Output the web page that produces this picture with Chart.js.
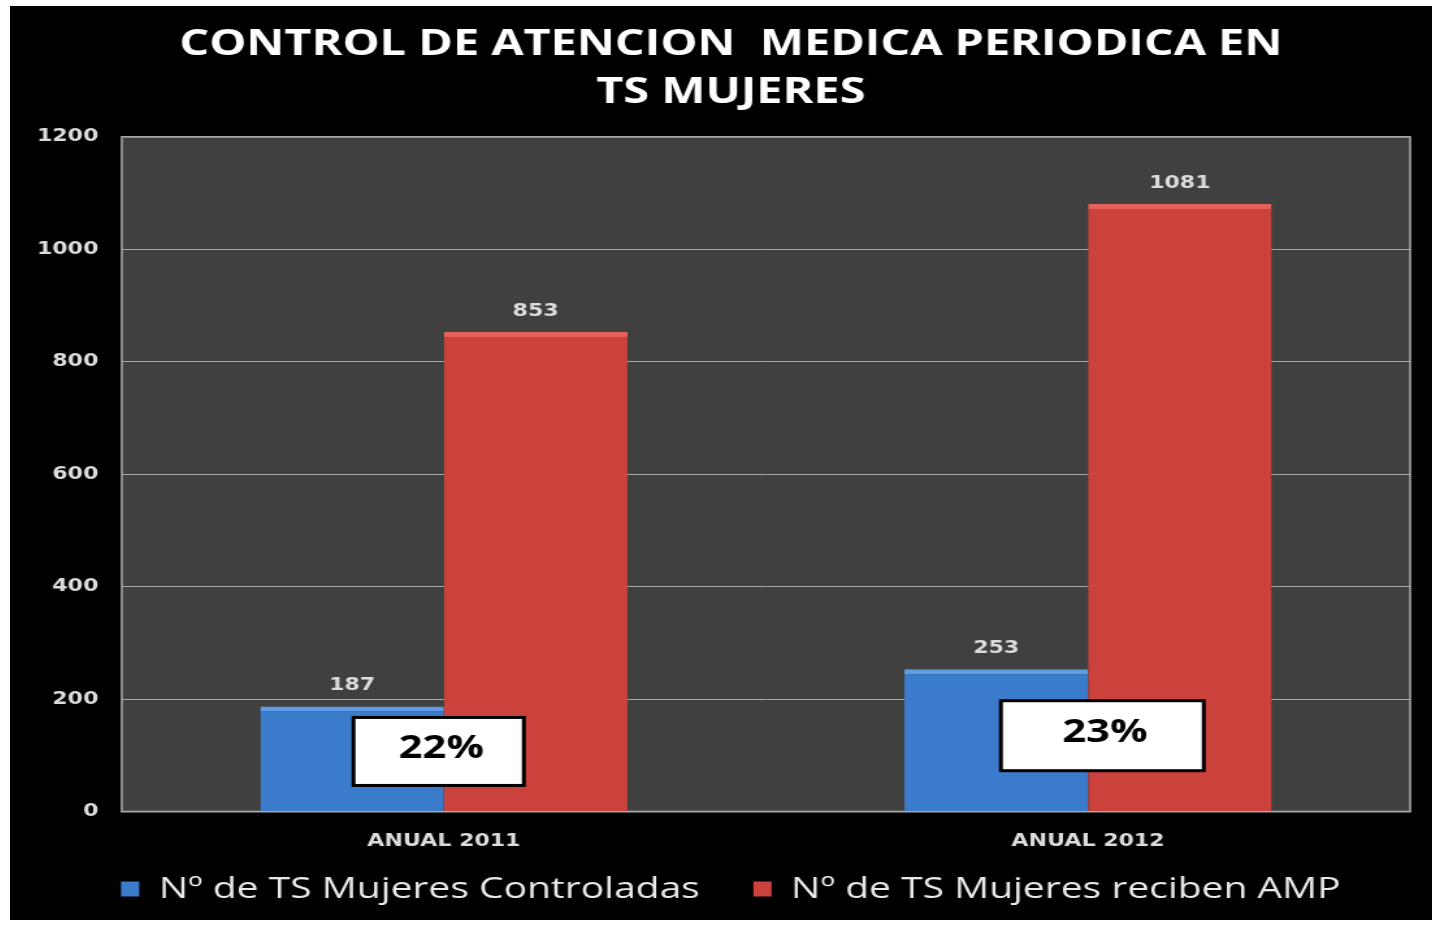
<!DOCTYPE html>
<html>
<head>
<meta charset="utf-8">
<script src="https://cdn.jsdelivr.net/npm/chart.js@4"></script>
<style>
    html, body { margin: 0; padding: 0; background: #fff; overflow: hidden; }
    #wrap { position: absolute; left: 10px; top: 6px; width: 1422px; height: 914px; background: #000; overflow: hidden; }
    /* la diapositiva original esta estirada a lo ancho */
    #atencionChart { transform: scaleX(1.3); transform-origin: 0 0; }
</style>
</head>
<body>
<div id="wrap"><canvas id="atencionChart" width="1094" height="914"></canvas></div>
<script>
const categories = ["ANUAL 2011", "ANUAL 2012"];
const controladas = [187, 253];
const recibenAmp = [853, 1081];
const porcentajes = ["22%", "23%"];
const yTicks = [0, 200, 400, 600, 800, 1000, 1200];

// cajas blancas con el porcentaje
const pctBoxes = {
    id: "pctBoxes",
    afterDatasetsDraw(chart) {
        const ctx = chart.ctx;
        const x = chart.scales.x;
        const y = chart.scales.y;
        const boxes = [
            { dx: -4, v: 107, w: 131, h: 68 },
            { dx: 11, v: 135, w: 156, h: 70 }
        ];
        porcentajes.forEach((txt, i) => {
            const b = boxes[i];
            const cx = x.getPixelForValue(i) + b.dx;
            const cy = y.getPixelForValue(b.v);
            ctx.save();
            ctx.fillStyle = "#fff";
            ctx.fillRect(cx - b.w / 2, cy - b.h / 2, b.w, b.h);
            ctx.lineWidth = 3;
            ctx.strokeStyle = "#000";
            ctx.strokeRect(cx - b.w / 2, cy - b.h / 2, b.w, b.h);
            ctx.fillStyle = "#000";
            ctx.font = "bold 32px 'Open Sans'";
            ctx.textAlign = "center";
            ctx.textBaseline = "middle";
            ctx.fillText(txt, cx + 2, cy - 3);
            ctx.restore();
        });
    }
};

// fondo gris del area del grafico
const plotBg = {
    id: "plotBg",
    beforeDraw(chart) {
        const a = chart.chartArea;
        const ctx = chart.ctx;
        ctx.save();
        ctx.fillStyle = "#404040";
        ctx.fillRect(a.left, a.top, a.right - a.left, a.bottom - a.top);
        ctx.strokeStyle = "#8a8a8a";
        ctx.lineWidth = 2;
        ctx.strokeRect(a.left, a.top, a.right - a.left, a.bottom - a.top);
        ctx.restore();
    }
};

// titulo y leyenda algo corridos a la derecha, como en la diapositiva
const shiftBoxes = {
    id: "shiftBoxes",
    afterLayout(chart) {
        [chart.titleBlock, chart.legend].forEach(b => {
            if (!b) return;
            b.left += 16;
            b.right += 16;
        });
    }
};

// etiquetas de valor encima de cada barra
const valueLabels = {
    id: "valueLabels",
    afterDatasetsDraw(chart) {
        const ctx = chart.ctx;
        ctx.save();
        ctx.fillStyle = "#dcdcdc";
        ctx.font = "bold 17px 'DejaVu Sans'";
        ctx.textAlign = "center";
        ctx.textBaseline = "bottom";
        chart.data.datasets.forEach((ds, di) => {
            chart.getDatasetMeta(di).data.forEach((bar, i) => {
                ctx.fillText(ds.data[i], bar.x, bar.y - 12);
            });
        });
        ctx.restore();
    }
};

function barGradient(ctx, light, mid, dark) {
    const el = ctx.element;
    if (!el || !el.width || isNaN(el.x)) return mid;
    const g = ctx.chart.ctx.createLinearGradient(el.x - el.width / 2, 0, el.x + el.width / 2, 0);
    g.addColorStop(0, light);
    g.addColorStop(0.08, mid);
    g.addColorStop(0.92, mid);
    g.addColorStop(1, dark);
    return g;
}

new Chart(document.getElementById("atencionChart"), {
    type: "bar",
    data: {
        labels: categories,
        datasets: [
            {
                label: "Nº de TS Mujeres Controladas",
                data: controladas,
                backgroundColor: (c) => barGradient(c, "#4a8ee0", "#3b7bcc", "#3470c0"),
                borderColor: "#5f9de6",
                borderWidth: { top: 5, left: 0, right: 0, bottom: 0 },
                borderSkipped: false
            },
            {
                label: "Nº de TS Mujeres reciben AMP",
                data: recibenAmp,
                backgroundColor: (c) => barGradient(c, "#d9504b", "#cb413c", "#bd3a36"),
                borderColor: "#e5625c",
                borderWidth: { top: 5, left: 0, right: 0, bottom: 0 },
                borderSkipped: false
            }
        ]
    },
    options: {
        responsive: false,
        animation: false,
        layout: { padding: { left: 0, right: 17, top: 0, bottom: 6 } },
        datasets: { bar: { categoryPercentage: 0.57, barPercentage: 1.0 } },
        plugins: {
            title: {
                display: true,
                text: ["CONTROL DE ATENCION  MEDICA PERIODICA EN", "TS MUJERES"],
                color: "#ffffff",
                font: { family: "'Open Sans'", size: 36, weight: "bold", lineHeight: 1.3333 },
                padding: { top: 15, bottom: 20 }
            },
            legend: {
                position: "bottom",
                labels: {
                    color: "#e8e8e8",
                    font: { family: "'Open Sans'", size: 30 },
                    boxWidth: 14,
                    boxHeight: 15,
                    padding: 10,
                    generateLabels(chart) {
                        return chart.data.datasets.map((ds, i) => ({
                            text: i === 0 ? ds.label + "    " : ds.label,
                            fillStyle: i === 0 ? "#3b7bcc" : "#cb413c",
                            strokeStyle: i === 0 ? "#3b7bcc" : "#cb413c",
                            lineWidth: 0,
                            fontColor: "#e8e8e8",
                            datasetIndex: i
                        }));
                    }
                }
            },
            tooltip: { enabled: false }
        },
        scales: {
            x: {
                grid: { display: false },
                border: { display: false },
                ticks: {
                    color: "#dcdcdc",
                    font: { family: "'DejaVu Sans'", size: 17, weight: "bold" },
                    padding: 12
                }
            },
            y: {
                min: 0,
                max: 1200,
                afterBuildTicks(scale) {
                    scale.ticks = yTicks.map(v => ({ value: v }));
                },
                afterFit(scale) {
                    scale.width = 86;
                },
                grid: { color: "#a8a8a8", lineWidth: 1, drawTicks: false },
                border: { display: false },
                ticks: {
                    color: "#dcdcdc",
                    font: { family: "'DejaVu Sans'", size: 17, weight: "bold" },
                    padding: 18,
                    callback: (v) => String(v)
                }
            }
        }
    },
    plugins: [plotBg, valueLabels, pctBoxes, shiftBoxes]
});
</script>
</body>
</html>
